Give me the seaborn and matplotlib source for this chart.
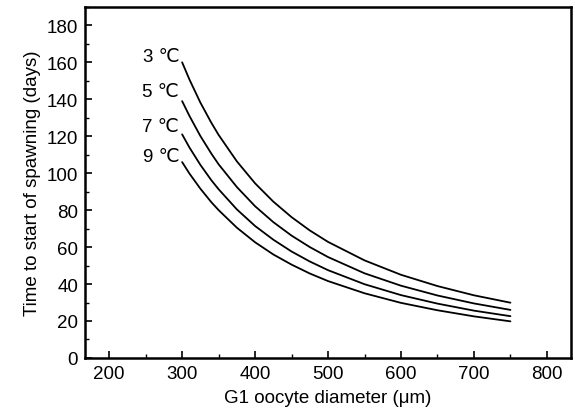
import numpy as np
import pandas as pd
import matplotlib
matplotlib.use("Agg")
import matplotlib.pyplot as plt
import seaborn as sns
from matplotlib.ticker import MultipleLocator

# Data
diameter = [300, 310, 325, 340, 350, 375, 400, 425, 450, 475, 500, 550, 600, 650, 700, 750]
days_3C = [160, 150.7, 138.2, 127.3, 120.7, 106.4, 94.5, 84.6, 76.2, 69.0, 62.8, 52.8, 45.0, 38.9, 33.9, 29.9]
days_5C = [139, 131.0, 120.1, 110.6, 104.8, 92.5, 82.1, 73.5, 66.2, 60.0, 54.6, 45.8, 39.1, 33.8, 29.5, 26.0]
days_7C = [121, 113.9, 104.5, 96.2, 91.3, 80.4, 71.4, 64.0, 57.6, 52.2, 47.5, 39.9, 34.0, 29.4, 25.6, 22.6]
days_9C = [106, 99.8, 91.6, 84.3, 80.0, 70.5, 62.6, 56.0, 50.5, 45.7, 41.6, 35.0, 29.8, 25.8, 22.5, 19.8]
labels = ["3 \u2103", "5 \u2103", "7 \u2103", "9 \u2103"]
label_y = [163, 144, 125, 109]

series = [days_3C, days_5C, days_7C, days_9C]
df = pd.concat([
    pd.DataFrame({"diameter": diameter, "days": s, "temp": lab})
    for s, lab in zip(series, labels)
], ignore_index=True)

sns.set_theme(style="ticks")
plt.rcParams['font.family'] = ['Liberation Sans', 'DejaVu Sans']

FS = 13.5
fig = plt.figure(figsize=(5.75, 4.14), dpi=100)
ax = fig.add_axes([0.148, 0.133, 0.845, 0.848])

sns.lineplot(data=df, x="diameter", y="days", hue="temp",
             palette=["black"] * 4, legend=False, linewidth=1.3, ax=ax)

for lab, s, ly in zip(labels, series, label_y):
    ax.text(diameter[0] - 4, ly, lab, ha="right", va="center", fontsize=FS,
            color="black")

ax.set_xlim(167, 833)
ax.set_ylim(0, 190)
ax.xaxis.set_minor_locator(MultipleLocator(50))
ax.yaxis.set_minor_locator(MultipleLocator(10))
ax.set_xticks([200, 300, 400, 500, 600, 700, 800])
ax.set_yticks([0, 20, 40, 60, 80, 100, 120, 140, 160, 180])

ax.tick_params(which="both", direction="in", colors="black", labelsize=FS,
               top=False, right=False)
ax.tick_params(which="major", length=5, width=1.2, pad=5)
ax.tick_params(which="minor", length=3, width=1.0)

for sp in ax.spines.values():
    sp.set_linewidth(1.8)
    sp.set_color("black")

ax.set_xlabel("G1 oocyte diameter (\u03bcm)", fontsize=FS, color="black", labelpad=5)
ax.set_ylabel("Time to start of spawning (days)", fontsize=FS, color="black", labelpad=4)

fig.savefig("out.png", dpi=100, facecolor="white")
